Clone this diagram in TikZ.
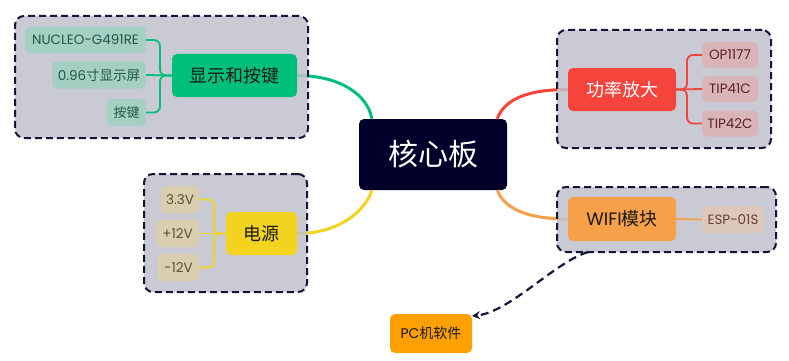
\documentclass[tikz,border=0pt]{standalone}
\usepackage{fontspec}
\setmainfont{Poppins}
\newfontfamily\cjk{Noto Sans CJK SC}
\usetikzlibrary{arrows.meta}
\definecolor{mgreen}{HTML}{00BF7A}
\definecolor{lgreen}{HTML}{A6CFC4}
\definecolor{tgreen}{HTML}{1E5A48}
\definecolor{mred}{HTML}{F5443B}
\definecolor{lred}{HTML}{D9B5B9}
\definecolor{tred}{HTML}{5A1E2C}
\definecolor{myellow}{HTML}{F2D420}
\definecolor{lyellow}{HTML}{D9CFAE}
\definecolor{tyellow}{HTML}{5A5030}
\definecolor{morange}{HTML}{F7A04A}
\definecolor{lorange}{HTML}{DCC8BC}
\definecolor{torange}{HTML}{6A4030}
\definecolor{corecol}{HTML}{00002A}
\definecolor{pccol}{HTML}{FFA000}
\definecolor{boxgray}{HTML}{C1C1CC}
\definecolor{boxline}{HTML}{15153A}
\begin{document}
\begin{tikzpicture}[x=1pt,y=-1pt,
  nb/.style={rounded corners=5pt, inner sep=0pt, anchor=center},
  leaf/.style={nb, minimum height=27pt, font=\fontsize{13.5}{15}\selectfont},
  leafG/.style={leaf, fill=lgreen, text=tgreen},
  leafR/.style={leaf, fill=lred, text=tred},
  leafY/.style={leaf, fill=lyellow, text=tyellow},
  leafO/.style={leaf, fill=lorange, text=torange},
  mainbox/.style={nb, minimum height=43pt, font=\fontsize{18}{20}\selectfont},
  groupbox/.style={draw=boxline, line width=2pt, dash pattern=on 7pt off 4pt,
    fill=boxgray, fill opacity=0.85, draw opacity=1, rounded corners=9pt, inner sep=0pt},
  mainlink/.style={line width=3pt},
  bracket/.style={line width=1.8pt, rounded corners=6pt},
]
\useasboundingbox (0,0) rectangle (789,361);

% core
\node[nb, fill=corecol, text=white, minimum width=148pt, minimum height=71pt,
  font={\cjk\fontsize{30}{32}\selectfont}] (core) at (433,154.5) {核心板};

% main curves first (under group boxes)
\draw[mainlink, mgreen] (297,75.5) .. controls (340,75.5) and (368,95) .. ([xshift=13pt]core.north west);
\draw[mainlink, mred] ([xshift=-10pt]core.north east) .. controls (505,98) and (530,89.5) .. (568,89.5);
\draw[mainlink, myellow] (297,233.5) .. controls (345,233.5) and (368,205) .. ([xshift=13pt]core.south west);
\draw[mainlink, morange] ([xshift=-10pt]core.south east) .. controls (505,210) and (530,219) .. (568,219);

% group boxes
\node[groupbox, minimum width=293pt, minimum height=122pt] (g1) at (161.5,77) {};
\node[groupbox, minimum width=214pt, minimum height=118pt] (g2) at (664,89) {};
\node[groupbox, minimum width=163pt, minimum height=118pt] (g3) at (225.5,233) {};
\node[groupbox, minimum width=219pt, minimum height=65pt] (g4) at (666.5,219.5) {};

% green group
\node[mainbox, fill=mgreen, text=black!90, minimum width=125pt, font={\cjk\fontsize{18}{20}\selectfont}] (xs) at (234.5,75.5) {显示和按键};
\node[leafG, minimum width=121pt] (nucleo) at (85.5,40) {NUCLEO-G491RE};
\node[leafG, minimum width=94pt] (disp) at (99,75) {0.96{\cjk 寸显示屏}};
\node[leafG, minimum width=39pt, font={\cjk\fontsize{13}{15}\selectfont}] (key) at (126.5,112.5) {按键};
\coordinate (gb) at (160,75.5);
\draw[bracket, mgreen] (xs.west) -- (gb) |- (nucleo.east);
\draw[bracket, mgreen] (xs.west) -- (gb) |- (key.east);
\draw[bracket, mgreen] (xs.west) -- (disp.east);

% red group
\node[mainbox, fill=mred, text=white, minimum width=108pt, font={\cjk\fontsize{18}{20}\selectfont}] (gl) at (622,89.5) {功率放大};
\node[leafR, minimum width=56pt, minimum height=26pt] (op) at (730,55) {OP1177};
\node[leafR, minimum width=56pt, minimum height=26pt] (t41) at (730,89) {TIP41C};
\node[leafR, minimum width=56pt, minimum height=26pt] (t42) at (730,123.5) {TIP42C};
\coordinate (rb) at (687,89.5);
\draw[bracket, mred] (gl.east) -- (rb) |- (op.west);
\draw[bracket, mred] (gl.east) -- (rb) |- (t42.west);
\draw[bracket, mred] (gl.east) -- (t41.west);

% yellow group
\node[mainbox, fill=myellow, text=black!90, minimum width=71pt, font={\cjk\fontsize{18}{20}\selectfont}] (dy) at (261.5,233.5) {电源};
\node[leafY, minimum width=38pt] (v33) at (180,199.5) {3.3V};
\node[leafY, minimum width=43pt] (p12) at (177.5,233.5) {+12V};
\node[leafY, minimum width=41pt] (m12) at (178.5,267.5) {-12V};
\coordinate (yb) at (214,233.5);
\draw[bracket, myellow] (dy.west) -- (yb) |- (v33.east);
\draw[bracket, myellow] (dy.west) -- (yb) |- (m12.east);
\draw[bracket, myellow] (dy.west) -- (p12.east);

% orange group
\node[mainbox, fill=morange, text=black!90, minimum width=108pt, minimum height=44pt] (wifi) at (622,219) {WIFI{\cjk 模块}};
\node[leafO, minimum width=62pt] (esp) at (733,219.5) {ESP-01S};
\draw[bracket, morange] (wifi.east) -- (esp.west);

% PC
\node[nb, fill=pccol, text=black!90, minimum width=82pt, minimum height=39pt,
  font=\fontsize{14}{16}\selectfont] (pc) at (431,333.5) {PC{\cjk 机软件}};
\coordinate (arrs) at (588,252);
\coordinate (arre) at (472,316);
\draw[boxline, line width=2.2pt, dash pattern=on 8pt off 5pt, -{Stealth[length=8pt,width=8pt]}]
  (arrs) .. controls (555,262) and (510,312) .. (arre);
\end{tikzpicture}
\end{document}
